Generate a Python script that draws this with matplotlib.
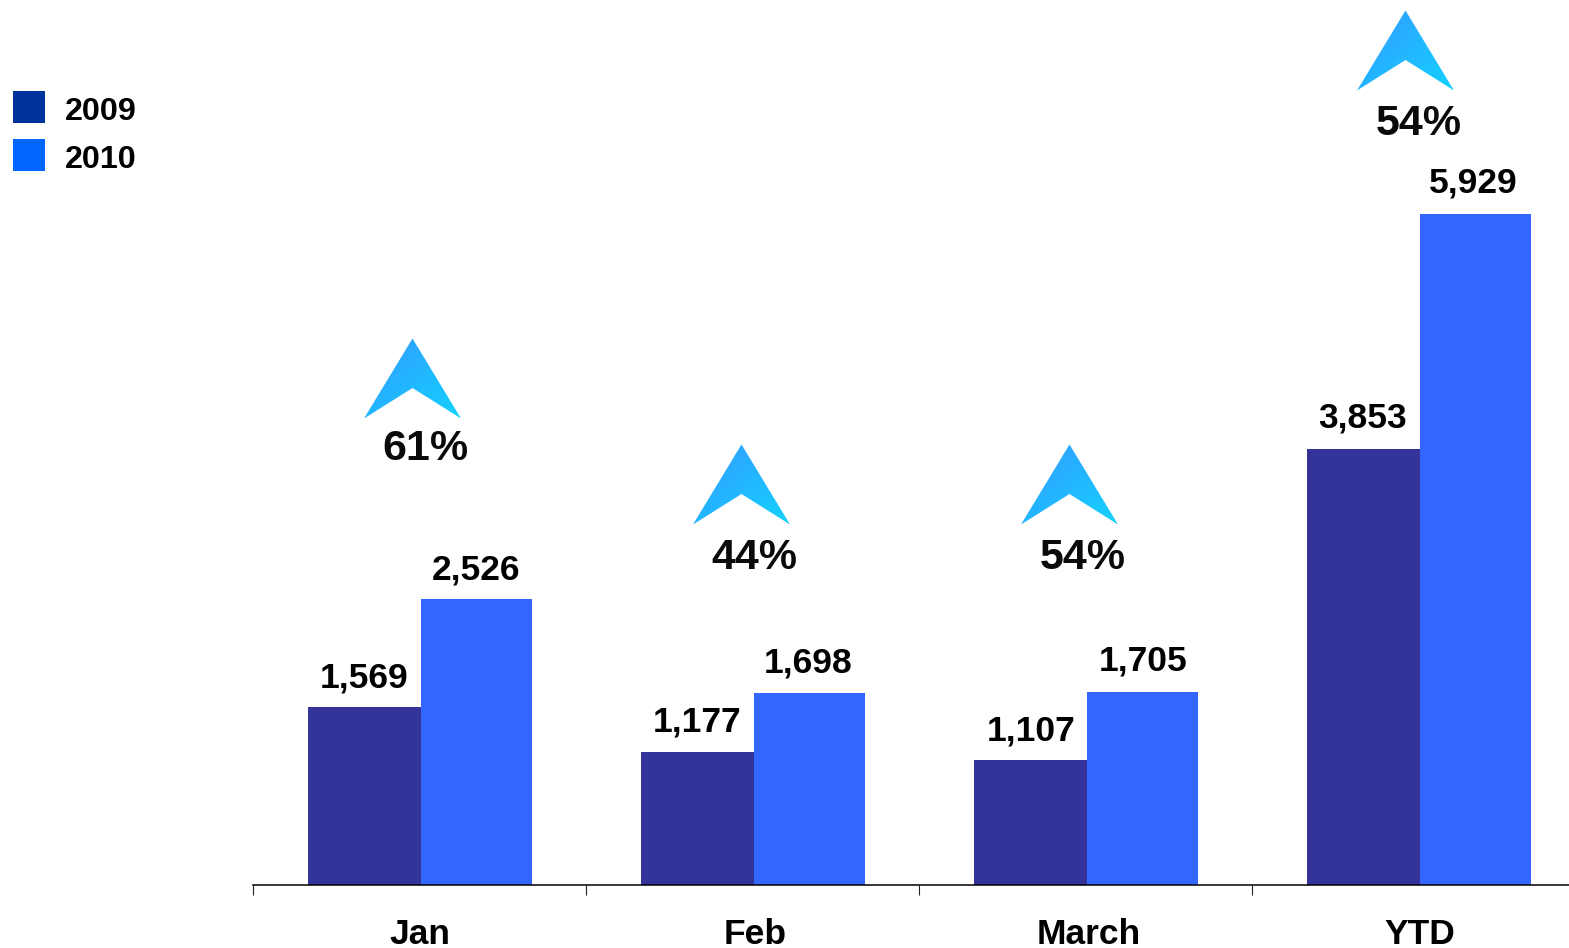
import numpy as np
import matplotlib
matplotlib.use("Agg")
import matplotlib.pyplot as plt
from matplotlib.patches import Polygon, Rectangle

plt.rcParams['font.family'] = ['Liberation Sans', 'DejaVu Sans']

categories = ['Jan', 'Feb', 'March', 'YTD']
values_2009 = [1569, 1177, 1107, 3853]
values_2010 = [2526, 1698, 1705, 5929]
growth = ['61%', '44%', '54%', '54%']
series_names = ['2009', '2010']

W, H = 1569, 948
C_2009, C_2010 = '#333399', '#3366FF'
LEG = ['#003399', '#0066FF']

fig = plt.figure(figsize=(W / 100, H / 100), dpi=100, facecolor='white')

# main chart: left edge at first tick, baseline at y=885 px
base_px = 885
ax = fig.add_axes([253 / W, (H - base_px) / H, (W - 253) / W, base_px / H])
px_per_unit = 671 / 5929
group_px = 333
x = np.arange(len(categories))
w1, w2 = 113 / group_px, 111 / group_px
shift = 1.3 / group_px
ax.bar(x + shift, values_2009, width=-w1, align='edge', color=C_2009, linewidth=0, zorder=2)
ax.bar(x + shift, values_2010, width=w2, align='edge', color=C_2010, linewidth=0, zorder=2)

for s in ('top', 'left', 'right'):
    ax.spines[s].set_visible(False)
ax.spines['bottom'].set_linewidth(1.1)
ax.set_yticks([])
ax.set_xticks(np.arange(len(categories) + 1) - 0.5)
ax.set_xticklabels([])
ax.tick_params(axis='x', length=7.2, width=0.8, color='#222222')
ax.set_ylim(0, base_px / px_per_unit)
ax.set_xlim(-0.5, -0.5 + (W - 253) / group_px)

cat_dx = [0.5, 3, 3, 1]
for xi, name, d in zip(x, categories, cat_dx):
    ax.annotate(name, (xi, 0), xytext=(d * 0.72, -58.5 * 0.72), textcoords='offset points',
                ha='center', va='baseline', fontsize=25.5, fontweight='bold',
                annotation_clip=False)

val_dx = [[-0.5, -0.5], [0, -1.5], [0.5, 0.5], [-1, -2]]
val_dy = [[20, 20], [20, 20], [19, 22], [21, 21]]
for i, xi in enumerate(x):
    for v, side, d, e in ((values_2009[i], -w1 / 2, val_dx[i][0], val_dy[i][0]),
                          (values_2010[i], w2 / 2, val_dx[i][1], val_dy[i][1])):
        ax.annotate(f'{v:,}', (xi + shift + side, v), xytext=(d * 0.72, e * 0.72),
                    textcoords='offset points', ha='center', va='baseline',
                    fontsize=25.5, fontweight='bold')

# overlay in pixel coordinates for the decorations
ov = fig.add_axes([0, 0, 1, 1], facecolor='none')
ov.axis('off')

apex_x = [412.5, 741.5, 1069.5, 1405.5]
apex_y = [338.5, 444.5, 444.5, 10.5]
pct_x = [425.5, 754.5, 1082.5, 1418.5]
pct_y = [459.5, 569, 569, 135]
grad = np.linspace(0, 1, 64)
gx, gy = np.meshgrid(grad, grad)
t = (gx + gy) / 2
c0, c1 = np.array([0x33, 0x99, 0xFF]) / 255, np.array([0x14, 0xD2, 0xFF]) / 255
img = c0[None, None, :] + (c1 - c0)[None, None, :] * t[..., None]
for ax_, ay, px, py, label in zip(apex_x, apex_y, pct_x, pct_y, growth):
    poly = Polygon([(ax_, ay), (ax_ + 48.5, ay + 80), (ax_, ay + 49.5), (ax_ - 48.5, ay + 80)],
                   closed=True, facecolor='none', edgecolor='none', transform=ov.transData)
    ov.add_patch(poly)
    im = ov.imshow(img, extent=(ax_ - 48.5, ax_ + 48.5, ay + 80, ay), aspect='auto', zorder=3)
    im.set_clip_path(poly)
    ov.text(px, py, label, ha='center', va='baseline',
            fontsize=31, fontweight='bold', color='#0a0a0a')
ov.set_xlim(0, W)
ov.set_ylim(H, 0)

for y0, col, name in zip((91, 139), LEG, series_names):
    ov.add_patch(Rectangle((13, y0), 32, 32, facecolor=col, edgecolor='none'))
    ov.text(64.5, y0 + 29, name, ha='left', va='baseline', fontsize=23.2, fontweight='bold')

fig.savefig('out.png', dpi=100, facecolor='white')
